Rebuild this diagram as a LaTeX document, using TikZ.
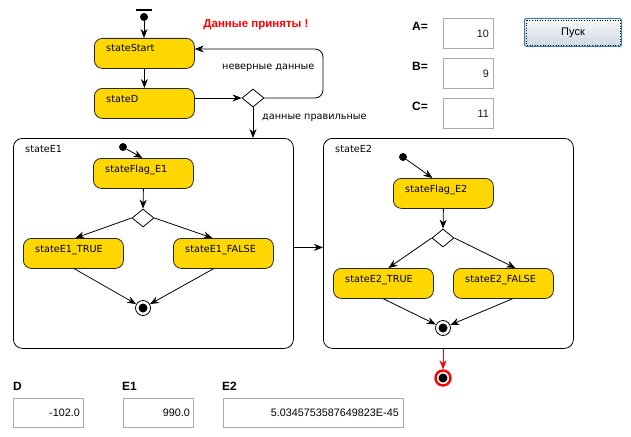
\documentclass[tikz,border=0pt]{standalone}
\usepackage{fontspec}
\setmainfont{Liberation Sans}
\newfontfamily\dv{DejaVu Sans}
\usetikzlibrary{arrows.meta,shapes.geometric}
\definecolor{gold}{RGB}{255,215,0}
\definecolor{fldgray}{RGB}{170,170,170}
\definecolor{btnborder}{RGB}{60,127,177}
\definecolor{btnbot}{RGB}{205,216,226}
\definecolor{valcol}{RGB}{40,10,50}
\newcommand\mystate[4]{%
  \node[st] (#1) at (#2,#3) {};
  \node[lab] at ([xshift=12pt,yshift=-14pt]#1.north west) {#4};}
\begin{document}
\begin{tikzpicture}[x=1pt,y=-1pt,
  st/.style={draw=black!85, fill=gold, rounded corners=8pt, minimum width=100pt, minimum height=30pt, inner sep=0, anchor=north west, line width=0.8pt},
  lab/.style={font=\dv\fontsize{9.7}{11}\selectfont, inner sep=0, anchor=base west},
  arr/.style={-{Stealth[length=9pt,width=7pt]}, line width=0.8pt},
  cont/.style={draw, rounded corners=9pt, anchor=north west, inner sep=0, line width=0.8pt},
  dia/.style={diamond, draw, fill=white, minimum width=22pt, minimum height=18pt, inner sep=0, line width=0.8pt},
  fin/.style={circle, draw, fill=white, minimum size=15pt, inner sep=0, line width=0.8pt, path picture={\fill[black] (path picture bounding box.center) circle (4.5pt);}},
  init/.style={circle, fill, minimum size=8pt, inner sep=0},
  fld/.style={draw=fldgray, line width=1pt, anchor=north west, inner sep=0},
  val/.style={font=\fontsize{10.8}{12}\selectfont, text=valcol, inner sep=0, anchor=east},
  blab/.style={font=\bfseries\fontsize{12}{14}\selectfont, inner sep=0, anchor=west}
]
\useasboundingbox (0,0) rectangle (631,436);

% top start
\draw[line width=2pt] (136,10) -- (152,10);
\node[init] (s0) at (144,17) {};
\mystate{sS}{94}{38}{stateStart}
\mystate{sD}{94}{88}{stateD}
\draw[arr] (s0) -- (s0 |- sS.north);
\draw[arr] (sS) -- (sD);
\node[dia] (dd) at (253,98) {};
\draw[arr] (sD.east |- dd.west) -- (dd.west);
\coordinate (lp) at (323,49);
\draw[arr, rounded corners=8pt] (dd.east) -| (lp) -- (sS.east |- lp);
\node[lab] at (222,70) {неверные данные};
\node[lab] at (262,119) {данные правильные};
\node[font=\bfseries\fontsize{11.5}{13}\selectfont, text=red, inner sep=0] (msg) at (256,25) {Данные приняты !};

% container E1
\node[cont, minimum width=280pt, minimum height=210pt] (E1) at (13,138) {};
\node[lab] at (25,152) {stateE1};
\draw[arr] (dd.south) -- (dd.south |- E1.north);
\node[init] (i1) at (123,147) {};
\mystate{f1}{93}{158}{stateFlag\_E1}
\draw[arr] (i1) -- ([xshift=-1pt]f1.north);
\node[dia] (d1) at (143,218) {};
\draw[arr] (f1.south) -- (d1.north);
\mystate{t1}{23}{238}{stateE1\_TRUE}
\mystate{x1}{173}{238}{stateE1\_FALSE}
\draw[arr] (d1.west) -- ([xshift=2pt]t1.north);
\draw[arr] (d1.east) -- ([xshift=-11pt]x1.north);
\node[fin] (e1) at (143,308) {};
\draw[arr] ([xshift=1pt]t1.south) -- (e1);
\draw[arr] ([xshift=-10pt]x1.south) -- (e1);

% container E2
\node[cont, minimum width=250pt, minimum height=210pt] (E2) at (323,138) {};
\node[lab] at (335,152) {stateE2};
\draw[arr] ([yshift=-4pt]E1.east) -- ([yshift=-4pt]E2.west);
\node[init] (i2) at (403,157) {};
\mystate{f2}{393}{178}{stateFlag\_E2}
\draw[arr] (i2) -- ([xshift=-11pt]f2.north);
\node[dia] (d2) at (443,238) {};
\draw[arr] (f2.south) -- (d2.north);
\mystate{t2}{333}{268}{stateE2\_TRUE}
\mystate{x2}{453}{268}{stateE2\_FALSE}
\draw[arr] (d2.west) -- ([xshift=5pt]t2.north);
\draw[arr] (d2.east) -- ([xshift=12pt]x2.north);
\node[fin] (e2) at (443,328) {};
\draw[arr] (t2.south) -- (e2);
\draw[arr] ([xshift=9pt]x2.south) -- (e2);

% final red
\node[circle, draw=red, line width=2.4pt, fill=white, minimum size=15pt, inner sep=0, path picture={\fill[black] (path picture bounding box.center) circle (4.5pt);}] (fe) at (443,378) {};
\draw[arr, red] (fe |- E2.south) -- (fe);

% fields right
\node[blab] (la) at (412,26) {A=};
\node[blab] (lb) at (412,66) {B=};
\node[blab] (lc) at (412,106) {C=};
\node[fld, minimum width=50pt, minimum height=30pt] (fa) at (443,18) {};
\node[fld, minimum width=50pt, minimum height=30pt] (fb) at (443,58) {};
\node[fld, minimum width=50pt, minimum height=30pt] (fc) at (443,98) {};
\node[val] at ([xshift=-5pt]fa.east) {10};
\node[val] at ([xshift=-5pt]fb.east) {9};
\node[val] at ([xshift=-5pt]fc.east) {11};

% button
\node[draw=btnborder, line width=1pt, rounded corners=1.5pt, top color=white!96!gray, bottom color=btnbot, minimum width=97pt, minimum height=28pt, inner sep=0, anchor=north west] (btn) at (524,18) {};
\draw[dotted, line width=0.6pt] ([shift={(2pt,-2pt)}]btn.north west) rectangle ([shift={(-2pt,2pt)}]btn.south east);
\node[font=\fontsize{11}{13}\selectfont, inner sep=0] at (btn.center) {Пуск};

% fields bottom
\node[blab] (ld) at (13,386) {D};
\node[blab] (le1) at (122,386) {E1};
\node[blab] (le2) at (222,386) {E2};
\node[fld, minimum width=70pt, minimum height=29pt] (fd) at (13,398) {};
\node[fld, minimum width=70pt, minimum height=29pt] (fe1) at (123,398) {};
\node[fld, minimum width=180pt, minimum height=29pt] (fe2) at (223,398) {};
\node[val, text=black] at ([xshift=-4pt]fd.east) {-102.0};
\node[val, text=black] at ([xshift=-4pt]fe1.east) {990.0};
\node[val, text=black] at ([xshift=-5pt]fe2.east) {5.0345753587649823E-45};
\end{tikzpicture}
\end{document}
